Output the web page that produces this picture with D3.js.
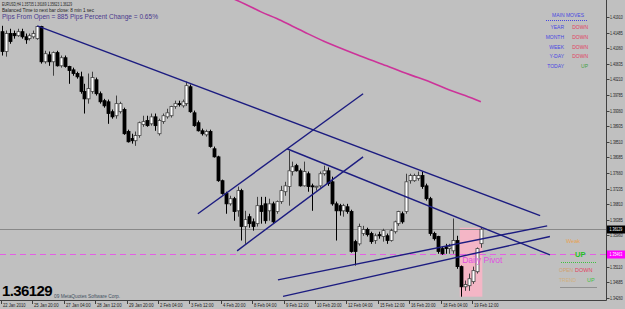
<!DOCTYPE html>
<html><head><meta charset="utf-8">
<script src="https://cdn.jsdelivr.net/npm/d3@7"></script>
<style>html,body{margin:0;padding:0;background:#c0c0c0;overflow:hidden}svg{display:block}text{font-family:"Liberation Sans",Arial,sans-serif}</style>
</head><body>
<script>
// ---------- data (EURUSD H4) ----------
const open = [
1.4151,1.4097,1.4146,1.4146,1.4140,1.4151,1.4137,1.4132,1.4137,1.4132,
1.4165,1.4069,1.4088,1.4069,1.4094,1.4058,1.4080,1.4056,1.4047,1.4037,
1.4028,1.3988,1.3968,1.3988,1.4020,1.3982,1.3963,1.3960,1.3933,1.3922,
1.3933,1.3939,1.3879,1.3860,1.3854,1.3868,1.3898,1.3909,1.3900,1.3919,
1.3873,1.3906,1.3919,1.3922,1.3947,1.3955,1.3949,1.3955,1.4001,1.3930,
1.3903,1.3881,1.3870,1.3879,1.3832,1.3810,1.3745,1.3710,1.3682,1.3696,
1.3663,1.3718,1.3620,1.3647,1.3633,1.3628,1.3677,1.3682,1.3663,1.3682,
1.3661,1.3688,1.3715,1.3729,1.3770,1.3786,1.3772,1.3731,1.3764,1.3731,
1.3729,1.3731,1.3764,1.3772,1.3742,1.3682,1.3677,1.3663,1.3674,1.3661,
1.3579,1.3573,1.3601,1.3612,1.3601,1.3582,1.3598,1.3593,1.3595,1.3582,
1.3606,1.3628,1.3655,1.3661,1.3745,1.3745,1.3751,1.3759,1.3731,1.3696,
1.3601,1.3593,1.3560,1.3565,1.3560,1.3554,1.3582,1.3511,1.3456,1.3459,
1.3470,1.3497,1.35735];
const high = [
1.4167,1.4154,1.4159,1.4154,1.4159,1.4159,1.4146,1.4146,1.4154,1.4167,
1.4167,1.4099,1.4097,1.4097,1.4099,1.4086,1.4086,1.4058,1.4053,1.4042,
1.4042,1.4009,1.4037,1.4042,1.4026,1.3988,1.3968,1.3966,1.3939,1.3977,
1.3960,1.3944,1.3884,1.3873,1.3879,1.3906,1.3922,1.3922,1.3928,1.3928,
1.3914,1.3928,1.3941,1.3949,1.3963,1.3963,1.3966,1.4015,1.4007,1.3936,
1.3909,1.3887,1.3884,1.3884,1.3838,1.3813,1.3748,1.3715,1.3704,1.3701,
1.3729,1.3723,1.3663,1.3655,1.3642,1.3701,1.3701,1.3701,1.3696,1.3688,
1.3691,1.3731,1.3742,1.3827,1.3797,1.3791,1.3778,1.3797,1.3770,1.3737,
1.3731,1.3770,1.3786,1.3781,1.3756,1.3688,1.3682,1.3682,1.3682,1.3666,
1.3584,1.3628,1.3622,1.3617,1.3606,1.3601,1.3606,1.3614,1.3601,1.3614,
1.3636,1.3663,1.3661,1.3764,1.3764,1.3764,1.3770,1.3770,1.3737,1.3701,
1.3606,1.3595,1.3565,1.3573,1.3573,1.3642,1.3595,1.3514,1.3473,1.3492,
1.3511,1.3563,1.36169];
const low = [
1.4086,1.4083,1.4118,1.4132,1.4137,1.4132,1.4118,1.4127,1.4132,1.4129,
1.4064,1.4064,1.4058,1.4031,1.4056,1.4053,1.4053,1.4009,1.4031,1.4023,
1.3982,1.3928,1.3955,1.3982,1.3977,1.3955,1.3944,1.3900,1.3914,1.3914,
1.3928,1.3870,1.3849,1.3846,1.3840,1.3862,1.3892,1.3892,1.3895,1.3881,
1.3868,1.3900,1.3914,1.3917,1.3941,1.3947,1.3944,1.3949,1.3930,1.3892,
1.3879,1.3868,1.3865,1.3835,1.3808,1.3742,1.3707,1.3655,1.3677,1.3636,
1.3647,1.3582,1.3573,1.3617,1.3609,1.3620,1.3628,1.3628,1.3636,1.3628,
1.3655,1.3682,1.3704,1.3677,1.3759,1.3770,1.3729,1.3729,1.3715,1.3663,
1.3718,1.3726,1.3759,1.3731,1.3677,1.3582,1.3650,1.3647,1.3655,1.3549,
1.3514,1.3568,1.3595,1.3593,1.3573,1.3573,1.3587,1.3579,1.3573,1.3579,
1.3601,1.3622,1.3628,1.3655,1.3737,1.3742,1.3745,1.3723,1.3691,1.3595,
1.3582,1.3546,1.3543,1.3546,1.3546,1.3546,1.3505,1.3429,1.3445,1.3445,
1.3464,1.3492,1.35623];
const close = [
1.4097,1.4146,1.4124,1.4140,1.4151,1.4137,1.4129,1.4140,1.4146,1.4165,
1.4069,1.4091,1.4069,1.4094,1.4058,1.4080,1.4056,1.4045,1.4037,1.4028,
1.3988,1.3968,1.3996,1.4026,1.3982,1.3960,1.3949,1.3928,1.3919,1.3955,
1.3955,1.3873,1.3851,1.3854,1.3868,1.3903,1.3906,1.3895,1.3919,1.3895,
1.3909,1.3922,1.3930,1.3947,1.3955,1.3954,1.3960,1.4004,1.3933,1.3895,
1.3881,1.3873,1.3879,1.3838,1.3810,1.3745,1.3710,1.3682,1.3696,1.3661,
1.3718,1.3620,1.3639,1.3628,1.3620,1.3677,1.3661,1.3636,1.3682,1.3633,
1.3688,1.3718,1.3731,1.3772,1.3783,1.3772,1.3731,1.3770,1.3729,1.3729,
1.3730,1.3764,1.3772,1.3737,1.3682,1.3663,1.3663,1.3677,1.3661,1.3552,
1.3552,1.3620,1.3612,1.3598,1.3579,1.3595,1.3595,1.3609,1.3582,1.3609,
1.3633,1.3661,1.3633,1.3742,1.3759,1.3759,1.3759,1.3729,1.3696,1.3601,
1.3587,1.3552,1.3546,1.3560,1.3565,1.3582,1.3511,1.3456,1.3462,1.3478,
1.3500,1.3560,1.36129];

// moving average (read at every 4th bar)
const maBar = [59,63,67,71,75,79,83,87,91,95,99,103,107,111,115,119,123];
const maVal = [1.4245,1.4226,1.4205,1.4187,1.4166,1.4145,1.4125,1.4107,1.4090,1.4074,1.4058,1.4041,1.4026,1.4010,1.3992,1.3977,1.3960];

// trendlines: start bar/price, end bar/price
const tlStartBar   = [10, 50.9, 60.9, 73.6, 71.3, 72.6];
const tlStartPrice = [1.4167, 1.3655, 1.3554, 1.3832, 1.3475, 1.3430];
const tlEndBar     = [138.1, 93.0, 93.0, 140.6, 139.9, 140.6];
const tlEndPrice   = [1.3650, 1.3982, 1.3810, 1.3543, 1.3622, 1.3593];

const dailyPivot = 1.35463;
const todayFirstBar = 118;

const priceTicks = [1.41910,1.41485,1.41060,1.40635,1.40210,1.39785,1.39360,1.38935,1.38510,1.38085,
                    1.37660,1.37235,1.36810,1.36385,1.35960,1.35535,1.35110,1.34685,1.34260];
const timeTickBars = [1,9,17,25,33,41,49,57,65,73,81,89,97,105,113,121];
const timeTickLabels = ["22 Jan 2010","25 Jan 20:00","27 Jan 04:00","28 Jan 12:00","29 Jan 20:00","2 Feb 04:00",
  "3 Feb 12:00","4 Feb 20:00","8 Feb 04:00","9 Feb 12:00","10 Feb 20:00","12 Feb 04:00","15 Feb 12:00",
  "16 Feb 20:00","18 Feb 04:00","19 Feb 12:00"];

const moveLabels = ["YEAR","MONTH","WEEK","Y-DAY","TODAY"];
const moveValues = ["DOWN","DOWN","DOWN","DOWN","UP"];

// ---------- drawing ----------
const W = 625, H = 309, plotR = 606, plotB = 300;
const svg = d3.select("body").append("svg").attr("width", W).attr("height", H);
svg.append("rect").attr("width", W).attr("height", H).attr("fill", "#c0c0c0");

const x = d3.scaleLinear().domain([1, 123]).range([2, 480.85]);
const y = d3.scaleLinear().domain([1.34260, 1.41910]).range([297.8, 17]);
const fmt = d3.format(".5f");

const plot = svg.append("g");
plot.append("clipPath").attr("id", "clip").append("rect").attr("x", 0).attr("y", 0).attr("width", plotR).attr("height", plotB);
const g = plot.append("g").attr("clip-path", "url(#clip)");

const bars = d3.range(open.length).map(i => ({n: i + 1, o: open[i], h: high[i], l: low[i], c: close[i]}));
const last = bars[bars.length - 1];

// today's range box
const today = bars.filter(b => b.n >= todayFirstBar);
const tHi = d3.max(today, b => b.h), tLo = d3.min(today, b => b.l);
g.append("rect").attr("x", x(todayFirstBar) - 1.5).attr("width", x(123) - x(todayFirstBar) + 3)
  .attr("y", y(tHi)).attr("height", y(tLo) - y(tHi)).attr("fill", "#f4b6c6");

// current price line
const cy = Math.round(y(last.c)) + 0.5;
g.append("line").attr("x1", 0).attr("x2", plotR).attr("y1", cy).attr("y2", cy).attr("stroke", "#888").attr("stroke-width", 1);

// daily pivot
const py = Math.round(y(dailyPivot)) + 0.5;
g.append("line").attr("x1", 0).attr("x2", plotR).attr("y1", py).attr("y2", py)
  .attr("stroke", "#e45ee4").attr("stroke-width", 1.2).attr("stroke-dasharray", "6,4");

// moving average
g.append("path").datum(maBar.map((b, i) => [b, maVal[i]]))
  .attr("d", d3.line().x(d => x(d[0])).y(d => y(d[1])).curve(d3.curveMonotoneX))
  .attr("fill", "none").attr("stroke", "#cc3399").attr("stroke-width", 1.6);

// candles
const cg = g.append("g");
bars.forEach(b => {
  const cx = Math.round(x(b.n)) + 0.5;
  const up = b.c >= b.o;
  cg.append("line").attr("x1", cx).attr("x2", cx).attr("y1", y(b.h)).attr("y2", y(b.l))
    .attr("stroke", up ? "#404040" : "#000").attr("stroke-width", 1);
  const top = y(Math.max(b.o, b.c)), bot = y(Math.min(b.o, b.c));
  cg.append("rect").attr("x", cx - 1.5).attr("width", 3)
    .attr("y", top).attr("height", Math.max(1, bot - top))
    .attr("fill", up ? "#ffffff" : "#000000").attr("stroke", up ? "#404040" : "#000").attr("stroke-width", 0.8);
});

// trendlines
tlStartBar.forEach((sb, i) => {
  g.append("line").attr("x1", x(sb)).attr("y1", y(tlStartPrice[i]))
    .attr("x2", x(tlEndBar[i])).attr("y2", y(tlEndPrice[i]))
    .attr("stroke", "#1c1c80").attr("stroke-width", 1.4);
});

// Daily pivot label
g.append("text").attr("x", x(todayFirstBar) + 1).attr("y", py + 8).text("Daily Pivot")
  .attr("font-size", 8.5).attr("fill", "#e050e0");

// axes frame
svg.append("line").attr("x1", plotR + 0.5).attr("x2", plotR + 0.5).attr("y1", 0).attr("y2", plotB + 0.5).attr("stroke", "#404040");
svg.append("line").attr("x1", 0).attr("x2", plotR + 0.5).attr("y1", plotB + 0.5).attr("y2", plotB + 0.5).attr("stroke", "#404040");

// price axis: ticks from the scale, narrow labels (hidden where a price box covers them)
const boxes = [last.c, dailyPivot];
const ya = svg.append("g");
priceTicks.forEach(v => {
  const ty = Math.round(y(v)) + 0.5;
  ya.append("line").attr("x1", plotR + 0.5).attr("x2", plotR + 3.5).attr("y1", ty).attr("y2", ty).attr("stroke", "#404040");
  if (boxes.every(bv => Math.abs(y(v) - y(bv)) > 5)) {
    ya.append("text").attr("transform", `translate(610,${ty + 1.8}) scale(0.68,1)`)
      .attr("font-size", 5.2).attr("fill", "#202020").text(fmt(v));
  }
});

// time axis
const xa = svg.append("g");
timeTickBars.forEach((b, i) => {
  const tx = Math.round(x(b)) - 0.5;
  xa.append("line").attr("x1", tx).attr("x2", tx).attr("y1", plotB).attr("y2", plotB + 4).attr("stroke", "#404040");
  xa.append("text").attr("x", tx + 1.5).attr("y", 307).text(timeTickLabels[i]).attr("font-size", 5)
    .attr("textLength", timeTickLabels[i].length * 2.05).attr("lengthAdjust", "spacingAndGlyphs").attr("fill", "#202020");
});

// price boxes on axis
function priceBox(v, bg) {
  const yy = Math.round(y(v)) + 0.5;
  svg.append("rect").attr("x", plotR + 1).attr("y", yy - 4).attr("width", 18).attr("height", 8).attr("fill", bg);
  svg.append("text").attr("transform", `translate(609.5,${yy + 1.8}) scale(0.68,1)`)
    .attr("font-size", 5.2).attr("fill", "#fff").text(fmt(v));
}
priceBox(last.c, "#000");
priceBox(dailyPivot, "#ff00ff");

// header texts
svg.append("text").attr("x", 2).attr("y", 6).attr("font-size", 5).attr("fill", "#202020")
  .attr("textLength", 70).attr("lengthAdjust", "spacingAndGlyphs")
  .text(`EURUSD,H4  ${fmt(last.o)} ${fmt(last.h)} ${fmt(last.l)} ${fmt(last.c)}`);
svg.append("text").attr("x", 2).attr("y", 11.5).attr("font-size", 5).attr("fill", "#202020")
  .attr("textLength", 92).attr("lengthAdjust", "spacingAndGlyphs")
  .text("Balanced Time to next bar close: 8 min 1 sec");
svg.append("text").attr("x", 2).attr("y", 18.5).attr("font-size", 7).attr("fill", "#4a3a8e")
  .attr("textLength", 156).attr("lengthAdjust", "spacingAndGlyphs")
  .text("Pips From Open = 885 Pips   Percent Change = 0.65%");

// main moves panel
svg.append("text").attr("x", 568).attr("y", 17).attr("text-anchor", "middle").attr("font-size", 5).attr("fill", "#4848e0").text("MAIN MOVES");
svg.append("line").attr("x1", 546).attr("x2", 588).attr("y1", 20.5).attr("y2", 20.5).attr("stroke", "#4848e0").attr("stroke-dasharray", "1,1");
moveLabels.forEach((lb, i) => {
  const yy = 29 + i * 9.8;
  svg.append("text").attr("x", 564).attr("y", yy).attr("text-anchor", "end").attr("font-size", 5).attr("fill", "#4848e0").text(lb);
  svg.append("text").attr("x", 588).attr("y", yy).attr("text-anchor", "end").attr("font-size", 5)
    .attr("fill", moveValues[i] === "UP" ? "#40a040" : "#e04060").text(moveValues[i]);
});

// lower right signal panel
svg.append("text").attr("x", 566).attr("y", 243).attr("font-size", 5.5).attr("fill", "#e8a050").text("Weak");
svg.append("text").attr("x", 575).attr("y", 257).attr("font-size", 7.5).attr("font-weight", "bold").attr("fill", "#20c020").text("UP");
svg.append("line").attr("x1", 561).attr("x2", 597).attr("y1", 262.5).attr("y2", 262.5).attr("stroke", "#40c040").attr("stroke-dasharray", "1,1");
svg.append("text").attr("x", 559).attr("y", 272).attr("font-size", 5).attr("fill", "#d0a070").text("OPEN");
svg.append("text").attr("x", 575).attr("y", 272).attr("font-size", 5.5).attr("fill", "#e04060").text("DOWN");
svg.append("text").attr("x", 559).attr("y", 282).attr("font-size", 5).attr("fill", "#d0b080").text("TREND");
svg.append("text").attr("x", 587).attr("y", 282).attr("font-size", 5.5).attr("fill", "#40c040").text("UP");
svg.append("line").attr("x1", 560).attr("x2", 597).attr("y1", 287.5).attr("y2", 287.5).attr("stroke", "#909090");

// bottom-left texts
svg.append("text").attr("x", 54).attr("y", 298).attr("font-size", 5).attr("fill", "#405060")
  .attr("textLength", 66).attr("lengthAdjust", "spacingAndGlyphs")
  .text("09 MetaQuotes Software Corp.");
svg.append("text").attr("x", 2).attr("y", 296).attr("font-size", 15).attr("font-weight", "bold").attr("fill", "#000")
  .attr("letter-spacing", -0.6).text(fmt(last.c));
</script>
</body></html>
